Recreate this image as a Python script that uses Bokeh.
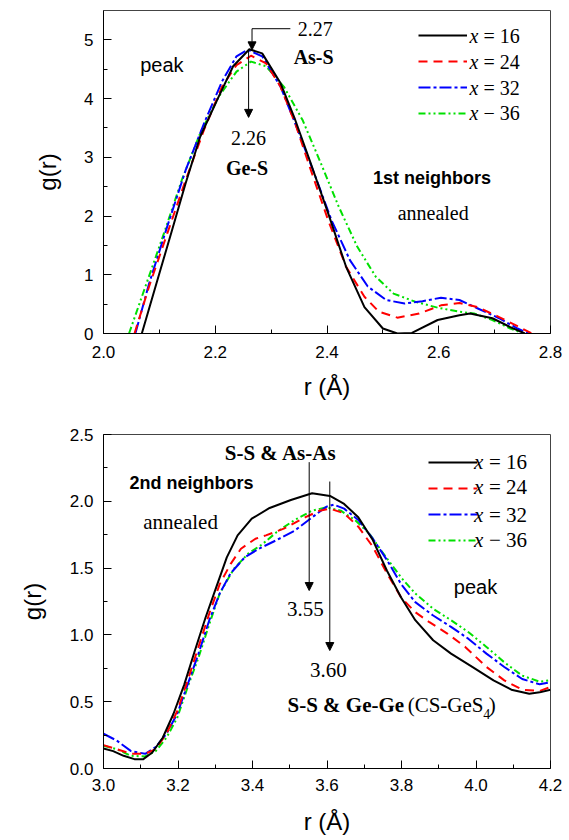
from bokeh.plotting import figure
from bokeh.layouts import column
from bokeh.models import (Range1d, FixedTicker, PrintfTickFormatter, Label,
                          Arrow, NormalHead, Legend, LegendItem)
from bokeh.embed import file_html
from bokeh.resources import INLINE

# ---------------- data: 1st neighbours (top panel) ----------------
r1_16 = [2.0686, 2.0947, 2.1208, 2.147, 2.173, 2.206, 2.232, 2.261, 2.284, 2.317, 2.343, 2.369,
         2.402, 2.434, 2.467, 2.500, 2.526, 2.552, 2.598, 2.637, 2.656, 2.696, 2.728, 2.754]
g1_16 = [0.0, 0.85, 1.70, 2.56, 3.35, 4.03, 4.55, 4.84, 4.77, 4.26, 3.64, 2.95,
         2.05, 1.14, 0.45, 0.085, 0.0, 0.01, 0.23, 0.31, 0.34, 0.26, 0.11, 0.0]
r1_24 = [2.0555, 2.0816, 2.114, 2.147, 2.180, 2.212, 2.238, 2.264, 2.291, 2.317, 2.343, 2.369,
         2.402, 2.434, 2.467, 2.493, 2.526, 2.565, 2.604, 2.637, 2.669, 2.708, 2.741, 2.767]
g1_24 = [0.0, 0.80, 1.70, 2.61, 3.47, 4.20, 4.57, 4.73, 4.60, 4.20, 3.58, 2.84,
         1.93, 1.14, 0.625, 0.37, 0.27, 0.34, 0.48, 0.52, 0.45, 0.28, 0.125, 0.0]
r1_32 = [2.057, 2.0816, 2.114, 2.147, 2.180, 2.212, 2.238, 2.258, 2.284, 2.317, 2.343, 2.375,
         2.408, 2.441, 2.473, 2.506, 2.539, 2.571, 2.604, 2.637, 2.669, 2.708, 2.741, 2.761]
g1_32 = [0.0, 0.85, 1.82, 2.78, 3.58, 4.29, 4.72, 4.83, 4.72, 4.20, 3.58, 2.78,
         1.93, 1.25, 0.80, 0.57, 0.51, 0.55, 0.61, 0.57, 0.43, 0.26, 0.085, 0.0]
r1_36 = [2.0457, 2.075, 2.108, 2.140, 2.173, 2.206, 2.238, 2.264, 2.291, 2.323, 2.356, 2.389,
         2.421, 2.454, 2.487, 2.519, 2.558, 2.598, 2.637, 2.663, 2.696, 2.728, 2.751]
g1_36 = [0.0, 0.80, 1.70, 2.61, 3.41, 4.03, 4.46, 4.63, 4.55, 4.20, 3.64, 2.90,
         2.16, 1.48, 0.97, 0.68, 0.54, 0.44, 0.37, 0.34, 0.23, 0.085, 0.0]

# ---------------- data: 2nd neighbours (bottom panel) ----------------
r2_16 = [3.0, 3.026, 3.054, 3.083, 3.107, 3.131, 3.159, 3.188, 3.217, 3.245, 3.274, 3.303, 3.331,
         3.360, 3.398, 3.446, 3.503, 3.560, 3.608, 3.646, 3.684, 3.723, 3.761, 3.799, 3.837,
         3.885, 3.933, 3.990, 4.047, 4.095, 4.143, 4.171, 4.2]
g2_16 = [0.15, 0.13, 0.095, 0.07, 0.07, 0.12, 0.23, 0.41, 0.63, 0.88, 1.13, 1.36, 1.58,
         1.745, 1.87, 1.95, 2.01, 2.06, 2.04, 1.98, 1.88, 1.71, 1.48, 1.28, 1.11,
         0.96, 0.86, 0.76, 0.66, 0.59, 0.56, 0.57, 0.59]
r2_24 = [3.0, 3.035, 3.074, 3.112, 3.14, 3.169, 3.198, 3.226, 3.255, 3.284, 3.312, 3.341, 3.369,
         3.408, 3.436, 3.484, 3.541, 3.580, 3.608, 3.646, 3.684, 3.723, 3.761, 3.799, 3.837,
         3.875, 3.923, 3.971, 4.028, 4.076, 4.124, 4.171, 4.2]
g2_24 = [0.175, 0.145, 0.11, 0.11, 0.145, 0.26, 0.43, 0.66, 0.91, 1.16, 1.38, 1.53, 1.645,
         1.72, 1.745, 1.795, 1.88, 1.93, 1.945, 1.91, 1.81, 1.66, 1.46, 1.28, 1.17,
         1.095, 1.01, 0.91, 0.76, 0.66, 0.59, 0.58, 0.61]
r2_32 = [3.0, 3.035, 3.074, 3.112, 3.14, 3.169, 3.198, 3.226, 3.255, 3.284, 3.312, 3.341, 3.379,
         3.417, 3.465, 3.513, 3.560, 3.599, 3.618, 3.646, 3.684, 3.723, 3.761, 3.799, 3.837,
         3.885, 3.933, 3.980, 4.028, 4.076, 4.124, 4.171, 4.2]
g2_32 = [0.26, 0.21, 0.13, 0.11, 0.16, 0.26, 0.41, 0.63, 0.86, 1.11, 1.31, 1.46, 1.58,
         1.645, 1.71, 1.78, 1.88, 1.96, 1.975, 1.945, 1.86, 1.72, 1.56, 1.38, 1.245,
         1.145, 1.06, 0.97, 0.86, 0.76, 0.67, 0.63, 0.645]
r2_36 = [3.0, 3.035, 3.074, 3.112, 3.14, 3.169, 3.198, 3.226, 3.255, 3.284, 3.312, 3.350, 3.389,
         3.427, 3.465, 3.513, 3.560, 3.599, 3.637, 3.675, 3.713, 3.751, 3.799, 3.837,
         3.885, 3.933, 3.980, 4.028, 4.076, 4.124, 4.171, 4.2]
g2_36 = [0.17, 0.145, 0.095, 0.09, 0.13, 0.23, 0.38, 0.61, 0.83, 1.08, 1.31, 1.495, 1.61,
         1.68, 1.77, 1.86, 1.93, 1.955, 1.93, 1.86, 1.76, 1.61, 1.43, 1.31,
         1.195, 1.11, 1.02, 0.91, 0.795, 0.695, 0.65, 0.66]

compositions = ["16", "24", "32", "36"]
legend_ops = ["=", "=", "=", "\u2212"]

# tick positions
x1_ticks = [2.0, 2.2, 2.4, 2.6, 2.8]
x1_minor = [2.1, 2.3, 2.5, 2.7]
y1_ticks = [0, 1, 2, 3, 4, 5]
y1_minor = [0.5, 1.5, 2.5, 3.5, 4.5]
x2_ticks = [3.0, 3.2, 3.4, 3.6, 3.8, 4.0, 4.2]
x2_minor = [3.1, 3.3, 3.5, 3.7, 3.9, 4.1]
y2_ticks = [0.0, 0.5, 1.0, 1.5, 2.0, 2.5]
y2_minor = [0.25, 0.75, 1.25, 1.75, 2.25]

SANS = "Liberation Sans"
SERIF = "Liberation Serif"
colors = ["black", "#ff0000", "#0000ff", "#00e000"]
dashes = ["solid", "9 6", "12 3 3 3", "7 3 2 3 2 3"]


def style_axes(p, y_fmt, lab_stand_x, ax_stand_x, ax_stand_y):
    for ax in p.axis:
        ax.major_tick_in = 8
        ax.major_tick_out = 0
        ax.minor_tick_in = 4
        ax.minor_tick_out = 0
        ax.axis_line_color = "black"
        ax.major_tick_line_color = "black"
        ax.minor_tick_line_color = "black"
        ax.major_label_text_font = SANS
        ax.major_label_text_font_size = "17px"
        ax.major_label_text_color = "black"
        ax.axis_label_text_font = SANS
        ax.axis_label_text_font_size = "24px"
        ax.axis_label_text_font_style = "normal"
        ax.axis_label_text_color = "black"
    p.yaxis.major_label_standoff = 10
    p.xaxis.major_label_standoff = lab_stand_x
    p.xaxis.axis_label_standoff = ax_stand_x
    p.yaxis.axis_label_standoff = ax_stand_y
    p.xaxis.formatter = PrintfTickFormatter(format="%.1f")
    p.yaxis.formatter = PrintfTickFormatter(format=y_fmt)
    p.xgrid.visible = False
    p.ygrid.visible = False
    p.outline_line_color = "#444444"
    p.outline_line_width = 1


def add_series(p, rs, gs):
    rends = []
    for r, g, c, d in zip(rs, gs, colors, dashes):
        rends.append(p.line(r, g, line_color=c, line_width=2, line_dash=d, line_join="round"))
    return rends


def add_legend(p, rends, frame_h, x0, row0, gw):
    h = 26
    n = len(rends)
    top = row0 - h / 2
    items = [LegendItem(label="\u00a0", renderers=[r]) for r in rends]
    leg = Legend(items=items, location=(x0, frame_h - top - n * h), glyph_width=gw,
                 glyph_height=h, label_height=h, label_width=1, spacing=0, padding=0, margin=0,
                 label_standoff=0, label_text_font=SERIF, label_text_font_size="12px",
                 border_line_alpha=0, background_fill_alpha=0)
    p.add_layout(leg)


def legend_text(p, x, ys, fs, eq_off):
    for y, op, c in zip(ys, legend_ops, compositions):
        p.add_layout(Label(x=x, y=y, text="x", text_font=SERIF, text_font_style="italic",
                           text_font_size=fs, text_align="left", text_baseline="middle",
                           text_color="black"))
        p.add_layout(Label(x=x, y=y, x_offset=eq_off, text="%s %s" % (op, c), text_font=SERIF,
                           text_font_size=fs, text_align="left", text_baseline="middle",
                           text_color="black"))


def lab(p, x, y, text, font=SERIF, size="20px", style="normal", align="center"):
    p.add_layout(Label(x=x, y=y, text=text, text_font=font, text_font_size=size,
                       text_font_style=style, text_align=align, text_baseline="middle",
                       text_color="black"))


def arrow(p, x0, y0, x1, y1, head=True):
    end = NormalHead(size=8, fill_color="black", line_color="black", line_width=1) if head else None
    p.add_layout(Arrow(end=end, x_start=x0, y_start=y0, x_end=x1, y_end=y1,
                       line_color="black", line_width=1))


# ---------------- top figure ----------------
p1 = figure(width=569, height=403, output_backend="svg", toolbar_location=None,
            x_range=Range1d(2.0, 2.8), y_range=Range1d(0, 5.5),
            min_border_left=103, min_border_right=19, min_border_top=10, min_border_bottom=70,
            x_axis_label="r (\u00c5)", y_axis_label="g(r)")
p1.xaxis.ticker = FixedTicker(ticks=x1_ticks, minor_ticks=x1_minor)
p1.yaxis.ticker = FixedTicker(ticks=y1_ticks, minor_ticks=y1_minor)
style_axes(p1, "%d", 12, 12, 20)
rends1 = add_series(p1, [r1_16, r1_24, r1_32, r1_36], [g1_16, g1_24, g1_32, g1_36])
p1.renderers = p1.renderers[::-1]
add_legend(p1, rends1, 323, 315, 25, 49)
legend_text(p1, 2.6549, [5.074, 4.620, 4.184, 3.751], "20px", 14)

lab(p1, 2.1045, 4.57, "peak", font=SANS, size="20px")
arrow(p1, 2.3344, 5.19, 2.2658, 5.19, head=False)
arrow(p1, 2.2658, 5.19, 2.2658, 4.83)
lab(p1, 2.3791, 5.19, "2.27")
lab(p1, 2.3761, 4.70, "As-S", style="bold")
arrow(p1, 2.2597, 4.83, 2.2597, 3.68)
lab(p1, 2.2597, 3.33, "2.26")
lab(p1, 2.2568, 2.81, "Ge-S", style="bold")
lab(p1, 2.588, 2.64, "1st neighbors", font=SANS, size="18px", style="bold")
lab(p1, 2.590, 2.05, "annealed")

# ---------------- bottom figure ----------------
p2 = figure(width=569, height=435, output_backend="svg", toolbar_location=None,
            x_range=Range1d(3.0, 4.2), y_range=Range1d(0, 2.5),
            min_border_left=99, min_border_right=14, min_border_top=31, min_border_bottom=70,
            x_axis_label="r (\u00c5)", y_axis_label="g(r)")
p2.xaxis.ticker = FixedTicker(ticks=x2_ticks, minor_ticks=x2_minor)
p2.yaxis.ticker = FixedTicker(ticks=y2_ticks, minor_ticks=y2_minor)
style_axes(p2, "%.1f", 10, 14, 21)
rends2 = add_series(p2, [r2_16, r2_24, r2_32, r2_36], [g2_16, g2_24, g2_32, g2_36])
p2.renderers = p2.renderers[::-1]
add_legend(p2, rends2, 334, 325, 27.7, 49)
legend_text(p2, 3.9946, [2.293, 2.106, 1.901, 1.714], "21px", 15)

lab(p2, 3.4758, 2.363, "S-S & As-As", size="21px", style="bold")
lab(p2, 3.236, 2.136, "2nd neighbors", font=SANS, size="18px", style="bold")
lab(p2, 3.207, 1.844, "annealed", size="21px")
arrow(p2, 3.5522, 2.293, 3.5522, 1.332)
lab(p2, 3.5417, 1.195, "3.55", size="21px")
arrow(p2, 3.6075, 2.148, 3.6075, 0.883)
lab(p2, 3.604, 0.739, "3.60", size="21px")
lab(p2, 3.494, 0.4716, "S-S & Ge-Ge", size="21px", style="bold", align="left")
lab(p2, 3.8165, 0.4716, "(CS-GeS", size="21px", align="left")
lab(p2, 4.0195, 0.41, "4", size="14px", align="left")
lab(p2, 4.0343, 0.4716, ")", size="21px", align="left")
lab(p2, 3.9986, 1.357, "peak", font=SANS, size="20px")

layout = column(p1, p2, spacing=0)
open("out.html", "w").write(file_html(layout, INLINE))
